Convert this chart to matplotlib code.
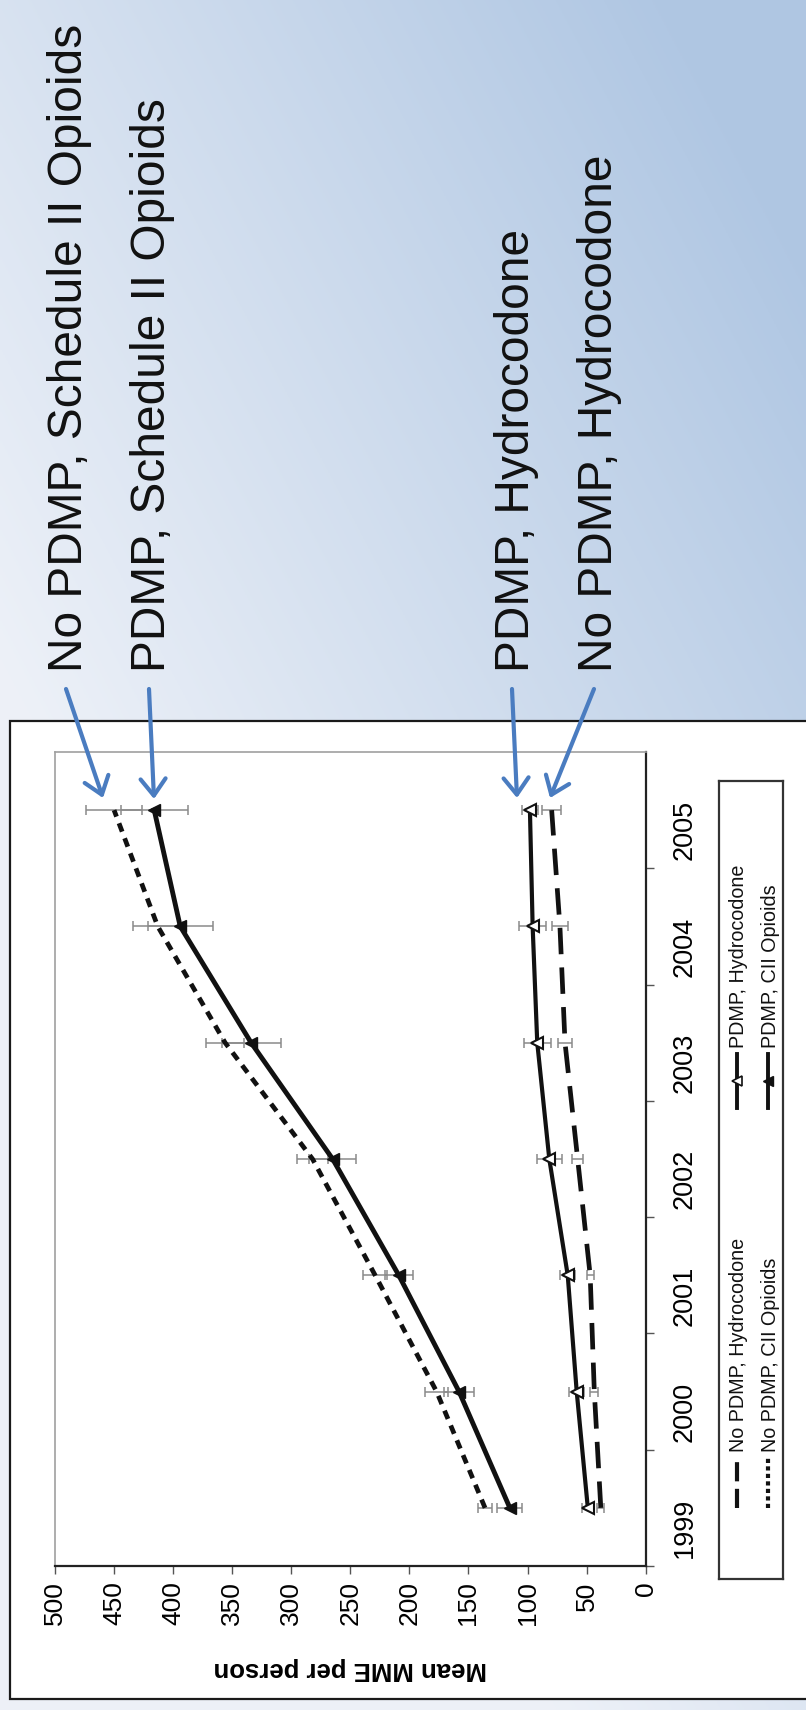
import numpy as np
import matplotlib
matplotlib.use("Agg")
import matplotlib.pyplot as plt
from matplotlib.patches import Rectangle

plt.rcParams['font.family'] = ['Liberation Sans', 'DejaVu Sans']

# data
years = [1999, 2000, 2001, 2002, 2003, 2004, 2005]
pdmp_cii = [115, 158, 209, 265, 334, 394, 416]
pdmp_cii_err = [10.6, 12.7, 12, 20, 25, 27.5, 28.5]
nopdmp_cii = [136, 177, 229, 282, 356, 413, 450]
nopdmp_cii_err = [6, 10, 10, 13, 16, 21, 24]
pdmp_hydro = [49, 58.4, 66, 81.6, 91.8, 95.7, 98]
pdmp_hydro_err = [5, 6.3, 6.3, 10.6, 11.3, 11.3, 7]
nopdmp_hydro = [38, 43.5, 47, 57.6, 68.3, 72.6, 79.6]
nopdmp_hydro_err = [2.8, 3.5, 3, 4.5, 5.6, 6.6, 8]

value_ticks = list(range(0, 501, 50))
callouts = ["No PDMP, Schedule II Opioids", "PDMP, Schedule II Opioids",
            "PDMP, Hydrocodone", "No PDMP, Hydrocodone"]
legend_labels = ["PDMP, Hydrocodone", "PDMP, CII Opioids",
                 "No PDMP, Hydrocodone", "No PDMP, CII Opioids"]

W, H = 806, 1710
fig = plt.figure(figsize=(W / 100, H / 100), dpi=100)

def fx(px):
    return px / W

def fy(py):
    return 1 - py / H

# background gradient + white box
bg = fig.add_axes([0, 0, 1, 1], zorder=0)
xs = np.linspace(0, 1, 300)
ys = np.linspace(0, 1, 600)
X, Y = np.meshgrid(xs, ys)
t = np.clip(X * 0.8 + (1 - Y) * 0.9 - 0.55, 0, 1)[..., None]
light = np.array([0.93, 0.945, 0.972])
dark = np.array([0.69, 0.78, 0.89])
img = light + (dark - light) * t
bg.imshow(img, extent=[0, W, H, 0], aspect='auto')
bg.set_xlim(0, W)
bg.set_ylim(H, 0)
bg.axis('off')
bg.add_patch(Rectangle((10, 721), 900, 978, facecolor='white', edgecolor='#1a1a1a', lw=1.6))

# callout text
text_base_x = [82, 165, 529, 612]
for lab, bx in zip(callouts, text_base_x):
    bg.text(bx, 672, lab, rotation=90, rotation_mode='anchor', ha='left', va='baseline',
            fontsize=34.5, color='#111111')

# main chart (rotated: values on x, years on y)
ax = fig.add_axes([fx(55), fy(1566), fx(645.7) - fx(55), (1566 - 752) / H], zorder=2)
ax.set_facecolor('white')

err_kw = dict(fmt='none', ecolor='#8a8a8a', elinewidth=1.1, capsize=3.5, capthick=1.1, zorder=2)
ax.errorbar(nopdmp_cii, years, xerr=nopdmp_cii_err, **err_kw)
ax.errorbar(pdmp_cii, years, xerr=pdmp_cii_err, **err_kw)
ax.errorbar(pdmp_hydro, years, xerr=pdmp_hydro_err, **err_kw)
ax.errorbar(nopdmp_hydro, years, xerr=nopdmp_hydro_err, **err_kw)

ax.plot(nopdmp_cii, years, color='#111111', lw=3.4, dashes=(1.9, 1.5), zorder=3)
ax.plot(nopdmp_hydro, years, color='#111111', lw=3.4, dashes=(5.6, 2.8), zorder=3)
ax.plot(pdmp_hydro, years, color='#111111', lw=3.0, marker='<', markersize=9,
        mfc='white', mec='#111111', mew=1.5, zorder=4)
ax.plot(pdmp_cii, years, color='#111111', lw=3.5, marker='<', markersize=9,
        mfc='#111111', mec='#111111', zorder=4)

ax.set_xlim(500, 0)
ax.set_ylim(1998.5, 2005.5)
ax.set_xticks(value_ticks)
ax.tick_params(axis='x', direction='out', length=6, width=1, color='#555555', pad=5,
               labelsize=19, labelrotation=90)
ax.yaxis.tick_right()
ax.set_yticks(years)
ax.set_yticks([y - 0.5 for y in years], minor=True)
ax.tick_params(axis='y', which='major', length=0, pad=19, labelsize=19.5, labelrotation=90)
ax.tick_params(axis='y', which='minor', direction='out', length=6, width=1, color='#555555')
ax.set_xlabel('Mean MME per person', fontsize=18.5, fontweight='bold', rotation=180)
ax.xaxis.set_label_coords(0.5, -0.112)
for s in ['left', 'top']:
    ax.spines[s].set_color('#a0a0a0')
    ax.spines[s].set_linewidth(1.2)
for s in ['bottom', 'right']:
    ax.spines[s].set_color('#222222')
    ax.spines[s].set_linewidth(1.6)

# legend, drawn rotated like the chart
lax = fig.add_axes([fx(719), fy(1579), fx(783) - fx(719), (1579 - 781) / H], zorder=3)
lax.set_xlim(719, 783)
lax.set_ylim(1579, 781)
lax.set_xticks([])
lax.set_yticks([])
for s in lax.spines.values():
    s.set_color('#333333')
    s.set_linewidth(1.6)

line_x = [736.7, 768.3, 736.7, 768.3]
base_x = [743.5, 775.5, 743.5, 775.5]
seg = [(1108, 1054), (1108, 1054), (1508, 1457), (1508, 1457)]
text_y = [1048, 1048, 1452, 1452]
styles = [dict(lw=2.8, marker='<', markersize=7, mfc='white', mec='#111111', mew=1.2, markevery=[1]),
          dict(lw=2.8, marker='<', markersize=7, mfc='#111111', mec='#111111', markevery=[1]),
          dict(lw=3.0, dashes=(4.6, 1.8)),
          dict(lw=3.0, dashes=(1.0, 0.8))]
for lab, lx, bx, (y0, y1), ty, st in zip(legend_labels, line_x, base_x, seg, text_y, styles):
    lax.plot([lx, lx, lx], [y0, (y0 + y1) / 2, y1], color='#111111', **st)
    lax.text(bx, ty, lab, rotation=90, rotation_mode='anchor', ha='left', va='baseline',
             fontsize=14.2, color='#111111')

# arrows on a transparent overlay so the heads sit above the chart
top = fig.add_axes([0, 0, 1, 1], zorder=10)
top.set_xlim(0, W)
top.set_ylim(H, 0)
top.axis('off')
arrow_tail = [(66, 689), (149, 689), (512, 689), (594, 689)]
arrow_tip = [(103, 798), (154, 799), (517, 798), (550, 798)]
for tail, tip in zip(arrow_tail, arrow_tip):
    top.annotate('', xy=tip, xytext=tail,
                 arrowprops=dict(arrowstyle='->,head_length=0.6,head_width=0.45', lw=3,
                                 color='#4a7cc0', mutation_scale=20, shrinkA=0, shrinkB=0))

fig.savefig('out.png', dpi=100)
